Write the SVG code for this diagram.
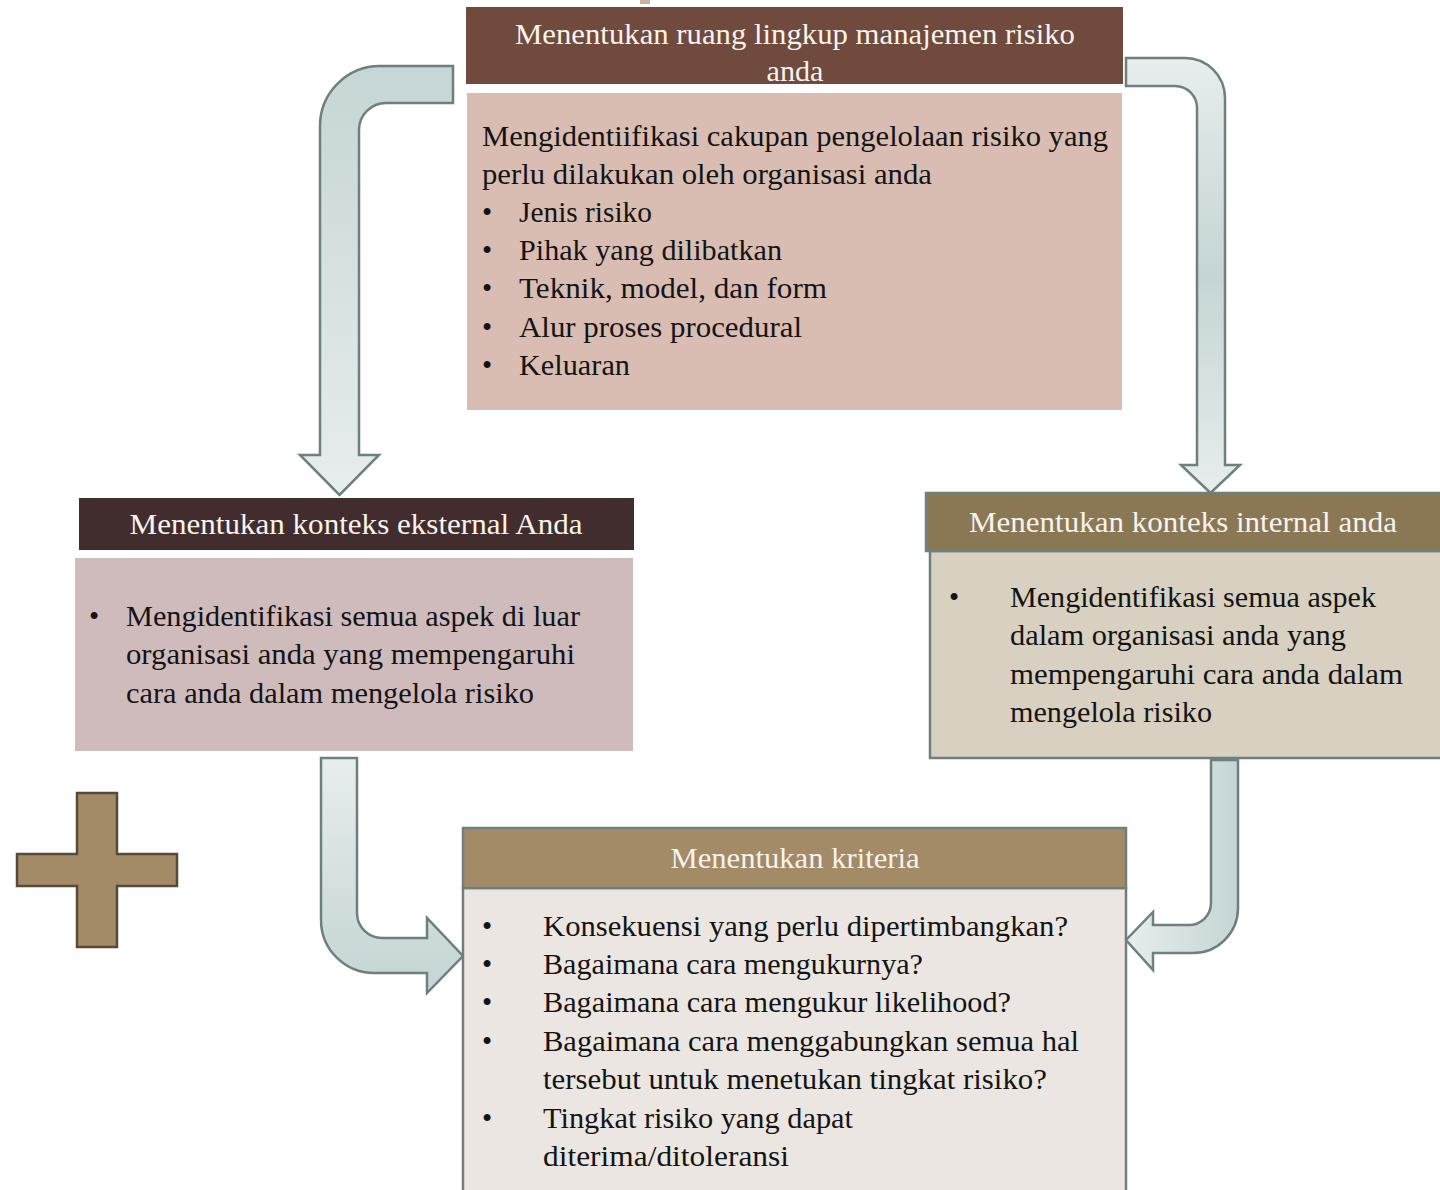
<svg xmlns="http://www.w3.org/2000/svg" width="1440" height="1190" viewBox="0 0 1440 1190">
<style>
.t{font-family:"Liberation Serif","Times New Roman",serif;font-size:29px;fill:#141414}
.h{font-family:"Liberation Serif","Times New Roman",serif;font-size:29px;fill:#F8F3EC;text-anchor:middle}
.arr{stroke:#6E807E;stroke-width:2.5;stroke-linejoin:miter}
.bx{stroke:#6E807E;stroke-width:2.5}
</style>
<defs>
<linearGradient id="g1" gradientUnits="userSpaceOnUse" x1="0" y1="66" x2="0" y2="495"><stop offset="0" stop-color="#C6D5D5"/><stop offset="1" stop-color="#E8EDED"/></linearGradient>
<linearGradient id="g2" gradientUnits="userSpaceOnUse" x1="0" y1="58" x2="0" y2="493"><stop offset="0" stop-color="#E8EDED"/><stop offset="0.5" stop-color="#C5D5D5"/><stop offset="1" stop-color="#E8EDED"/></linearGradient>
<linearGradient id="g3" gradientUnits="userSpaceOnUse" x1="0" y1="758" x2="0" y2="993"><stop offset="0" stop-color="#E8EDED"/><stop offset="1" stop-color="#C4D4D4"/></linearGradient>
<linearGradient id="g4" gradientUnits="userSpaceOnUse" x1="1126" y1="0" x2="1238" y2="0"><stop offset="0" stop-color="#E8EDED"/><stop offset="1" stop-color="#C5D5D5"/></linearGradient>
</defs>
<rect width="1440" height="1190" fill="#FFFFFF"/>
<rect x="640" y="0" width="10" height="4" fill="#C8B69A"/>
<g id="connectors">
<path class="arr" fill="url(#g1)" d="M 453 66 L 453 103 L 386 103 A 27 27 0 0 0 359 130 L 359 455 L 379 455 L 339.5 495 L 300 455 L 320 455 L 320 126 A 60 60 0 0 1 380 66 Z"/>
<path class="arr" fill="url(#g2)" d="M 1126 58 L 1185 58 A 40 40 0 0 1 1225 98 L 1225 465 L 1240 465 L 1210.5 493 L 1181 465 L 1197 465 L 1197 108 A 22 22 0 0 0 1175 86 L 1126 86 Z"/>
<path class="arr" fill="url(#g3)" d="M 321 758 L 357 758 L 357 913 A 25 25 0 0 0 382 938 L 427 938 L 427 918 L 463 956 L 427 993 L 427 973 L 374 973 A 53 53 0 0 1 321 920 Z"/>
<path class="arr" fill="url(#g4)" d="M 1211 760 L 1238 760 L 1238 908 A 45 45 0 0 1 1193 953 L 1153 953 L 1153 970 L 1126 940 L 1153 912 L 1153 925 L 1189 925 A 22 22 0 0 0 1211 903 Z"/>
</g>
<g id="node-scope">
<rect x="466" y="7" width="657" height="77" fill="#6F4A3D"/>
<text class="h" x="795" y="44" textLength="560" lengthAdjust="spacingAndGlyphs">Menentukan ruang lingkup manajemen risiko</text>
<text class="h" x="795" y="81" textLength="57" lengthAdjust="spacingAndGlyphs">anda</text>
<rect x="467" y="93" width="655" height="317" fill="#D9BDB3"/>
<text class="t" x="482" y="146" textLength="626" lengthAdjust="spacingAndGlyphs">Mengidentiifikasi cakupan pengelolaan risiko yang</text>
<text class="t" x="482" y="184" textLength="450" lengthAdjust="spacingAndGlyphs">perlu dilakukan oleh organisasi anda</text>
<text class="t" x="482" y="222">•</text><text class="t" x="519" y="222" textLength="133" lengthAdjust="spacingAndGlyphs">Jenis risiko</text>
<text class="t" x="482" y="260">•</text><text class="t" x="519" y="260" textLength="263" lengthAdjust="spacingAndGlyphs">Pihak yang dilibatkan</text>
<text class="t" x="482" y="298">•</text><text class="t" x="519" y="298" textLength="308" lengthAdjust="spacingAndGlyphs">Teknik, model, dan form</text>
<text class="t" x="482" y="337">•</text><text class="t" x="519" y="337" textLength="283" lengthAdjust="spacingAndGlyphs">Alur proses procedural</text>
<text class="t" x="482" y="375">•</text><text class="t" x="519" y="375" textLength="111" lengthAdjust="spacingAndGlyphs">Keluaran</text>
</g>
<g id="node-external">
<rect x="79" y="498" width="555" height="52" fill="#422D2E"/>
<text class="h" x="356" y="534" textLength="453" lengthAdjust="spacingAndGlyphs">Menentukan konteks eksternal Anda</text>
<rect x="75" y="558" width="558" height="193" fill="#D0BBBC"/>
<text class="t" x="89" y="626">•</text>
<text class="t" x="126" y="626" textLength="454" lengthAdjust="spacingAndGlyphs">Mengidentifikasi semua aspek di luar</text>
<text class="t" x="126" y="664" textLength="449" lengthAdjust="spacingAndGlyphs">organisasi anda yang mempengaruhi</text>
<text class="t" x="126" y="703" textLength="408" lengthAdjust="spacingAndGlyphs">cara anda dalam mengelola risiko</text>
</g>
<g id="node-internal">
<rect class="bx" x="930" y="551" width="520" height="207" fill="#D8D0C0"/>
<rect class="bx" x="926" y="493" width="524" height="58" fill="#8A7855"/>
<text class="h" x="1183" y="532" textLength="428" lengthAdjust="spacingAndGlyphs">Menentukan konteks internal anda</text>
<text class="t" x="949" y="607">•</text>
<text class="t" x="1010" y="607" textLength="366" lengthAdjust="spacingAndGlyphs">Mengidentifikasi semua aspek</text>
<text class="t" x="1010" y="645" textLength="336" lengthAdjust="spacingAndGlyphs">dalam organisasi anda yang</text>
<text class="t" x="1010" y="684" textLength="393" lengthAdjust="spacingAndGlyphs">mempengaruhi cara anda dalam</text>
<text class="t" x="1010" y="722" textLength="202" lengthAdjust="spacingAndGlyphs">mengelola risiko</text>
</g>
<g id="node-criteria">
<rect class="bx" x="463" y="888" width="663" height="310" fill="#EBE6E1"/>
<rect class="bx" x="463" y="828" width="663" height="60" fill="#A38B68"/>
<text class="h" x="795" y="868" textLength="249" lengthAdjust="spacingAndGlyphs">Menentukan kriteria</text>
<text class="t" x="482" y="936">•</text><text class="t" x="543" y="936" textLength="525" lengthAdjust="spacingAndGlyphs">Konsekuensi yang perlu dipertimbangkan?</text>
<text class="t" x="482" y="974">•</text><text class="t" x="543" y="974" textLength="380" lengthAdjust="spacingAndGlyphs">Bagaimana cara mengukurnya?</text>
<text class="t" x="482" y="1012">•</text><text class="t" x="543" y="1012" textLength="468" lengthAdjust="spacingAndGlyphs">Bagaimana cara mengukur likelihood?</text>
<text class="t" x="482" y="1051">•</text><text class="t" x="543" y="1051" textLength="536" lengthAdjust="spacingAndGlyphs">Bagaimana cara menggabungkan semua hal</text>
<text class="t" x="543" y="1089" textLength="504" lengthAdjust="spacingAndGlyphs">tersebut untuk menetukan tingkat risiko?</text>
<text class="t" x="482" y="1128">•</text><text class="t" x="543" y="1128" textLength="310" lengthAdjust="spacingAndGlyphs">Tingkat risiko yang dapat</text>
<text class="t" x="543" y="1166" textLength="246" lengthAdjust="spacingAndGlyphs">diterima/ditoleransi</text>
</g>
<g id="node-plus">
<path fill="#A38B68" stroke="#574A36" stroke-width="2.5" d="M 77 793 L 117 793 L 117 854 L 177 854 L 177 886 L 117 886 L 117 947 L 77 947 L 77 886 L 17 886 L 17 854 L 77 854 Z"/>
</g>
</svg>
